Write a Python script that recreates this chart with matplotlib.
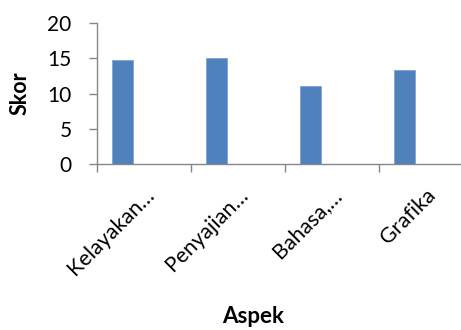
import matplotlib
matplotlib.use("Agg")
import matplotlib.pyplot as plt
import numpy as np

# skor tiap aspek penilaian
aspek = ["Kelayakan…", "Penyajian…", "Bahasa,…", "Grafika"]
skor = [14.7, 15.0, 11.1, 13.4]

plt.rcParams['font.family'] = ['Lato', 'DejaVu Sans']

fig = plt.figure(figsize=(4.61, 3.30), dpi=100)
ax = fig.add_axes([0.2097, 0.503, 0.8156, 0.427])

pos = np.arange(len(aspek))
w = 1 / 4.5
ax.bar(pos - w, skor, width=w, color='#4F81BD', edgecolor='#7EA3D4', linewidth=0.6)

ax.set_xlim(-0.5, len(aspek) - 0.5)
ax.set_ylim(0, 20)
ax.set_yticks([0, 5, 10, 15, 20])
ax.set_yticklabels(['0', '5', '10', '15', '20'], fontsize=15)
ax.set_xticks(pos)
ax.set_xticklabels(aspek, fontsize=15.5, rotation=45, ha='right', rotation_mode='anchor')
ax.set_xticks(np.arange(len(aspek)) - 0.5, minor=True)
ax.tick_params(axis='x', which='major', length=0, pad=15)
ax.tick_params(axis='x', which='minor', length=6, color='#868686', width=1)
ax.tick_params(axis='y', length=6, color='#868686', width=1, pad=12)

for s in ['top', 'right']:
    ax.spines[s].set_visible(False)
for s in ['left', 'bottom']:
    ax.spines[s].set_color('#868686')
    ax.spines[s].set_linewidth(1)

ax.set_ylabel('Skor', fontsize=15.5, fontweight='bold', labelpad=12)
fig.text(0.549, 0.008, 'Aspek', fontsize=16, fontweight='bold', ha='center', va='bottom')

fig.savefig('out.png', dpi=100)
